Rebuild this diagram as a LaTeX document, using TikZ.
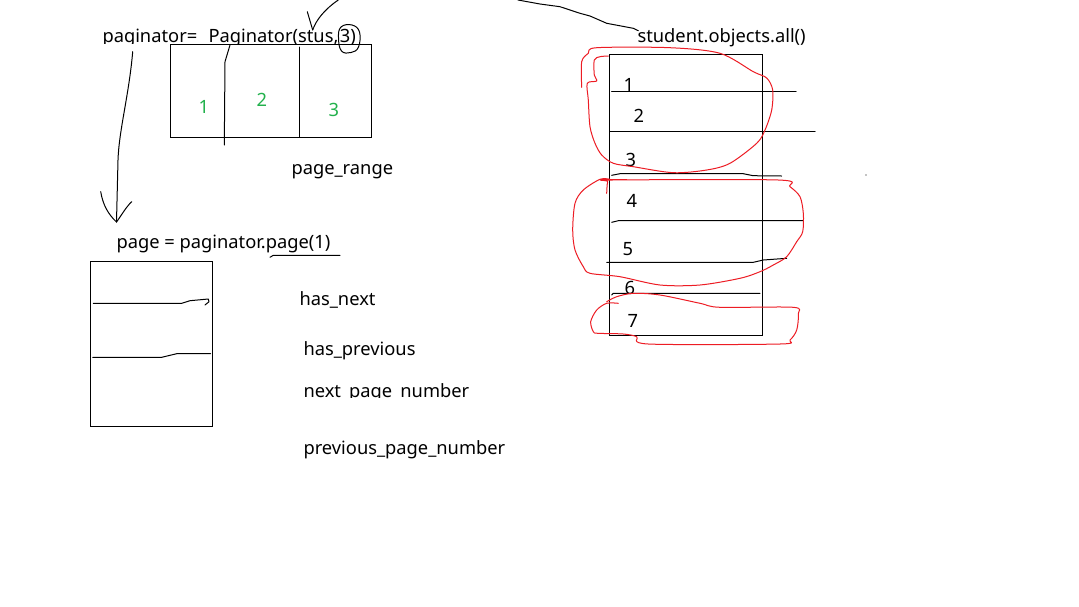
\documentclass[tikz,border=0pt]{standalone}
\usepackage{fontspec}
\setmainfont{Noto Sans}
\definecolor{numgreen}{RGB}{34,177,76}
\definecolor{inkred}{RGB}{237,28,36}
\begin{document}
\begin{tikzpicture}[x=1pt,y=-1pt,line width=1pt,
  txt/.style={anchor=base west,inner sep=0pt,font=\fontsize{18.3}{21}\selectfont},
  grn/.style={txt,text=numgreen},
  hand/.style={draw=black,line width=1pt,line join=round,line cap=round},
  redline/.style={draw=inkred,line width=1pt,line join=round,line cap=round},
  box/.style={draw=black,line width=1pt,inner sep=0pt}]
\fill[white] (0,0) rectangle (1079,606);
\useasboundingbox (0,0) rectangle (1079,606);

% ---------- top left ----------
\begin{scope}
  \clip (0,0) rectangle (500,43.5);
  \node[txt] (pag) at (102,42.5) {paginator=};
  \node[txt] (Pag) at (208,42.5) {Paginator(stus,\hspace{1.5pt}3)};
\end{scope}
\node[box,minimum width=201pt,minimum height=93pt] (pgbox) at (270.5,90.5) {};
\draw[hand] (299,47) -- (299,137);
\node[grn] (g1) at (198,113) {1};
\node[grn] (g2) at (256,106) {2};
\node[grn] (g3) at (328,116) {3};
% line from "Paginator" down
\coordinate (u1) at (230,45);
\draw[hand] (u1) -- (225,61.7) -- (224.3,145);
% arrow into "stus"
\coordinate (s0) at (338.3,0);
\coordinate (s1) at (312.7,30);
\draw[hand] (s0) .. controls (325,9) and (316,20) .. (s1);
\draw[hand] (307.3,11.7) -- (s1);
% circle around 3
\draw[hand] plot[smooth cycle,tension=0.7] coordinates {(341,27) (352,25) (359.5,32) (358.5,47) (351,52.5) (341.5,51) (338.5,38)};

\node[txt] (range) at (291,174) {page\_range};

% ---------- arrow paginator -> page ----------
\coordinate (a0) at (132.7,51.7);
\coordinate (a1) at (116.5,222);
\draw[hand] (a0) .. controls (129,95) and (119,130) .. (118,160) -- (a1);
\draw[hand] (100.7,191.7) .. controls (103,205) and (108,214) .. (a1);
\draw[hand] (131.7,201.7) .. controls (126,207) and (121,216) .. (a1);

% ---------- page ----------
\node[txt] (page) at (116,248) {page = paginator.page(1)};
\draw[hand] (270,257.3) -- (273.3,255.3) -- (340,255.3);
\node[box,minimum width=122pt,minimum height=165pt] (pbox) at (151.7,344) {};
\draw[hand] (93.3,303.3) -- (181.7,303.3) -- (190,300.7) -- (208.3,299) -- (209,301.7) -- (205,305);
\draw[hand] (92.7,357.3) -- (161.7,357.3) -- (176.7,353.7) -- (210.7,353.7);

\node[txt] (hasnext) at (299,305) {has\_next};
\node[txt] (hasprev) at (303,355) {has\_previous};
\begin{scope}
  \clip (0,300) rectangle (700,397.5);
  \node[txt] (nextnum) at (303,397) {next\_page\_number};
\end{scope}
\node[txt] (prevnum) at (303,454) {previous\_page\_number};

% ---------- right side ----------
\node[txt] (student) at (637,42) {student.objects.all()};
\coordinate (t0) at (518,0);
\draw[hand] (t0) -- (540,4) -- (560,6.7) -- (580,13.3) -- (590,16) -- (606.7,23.3) -- (633.3,28.3) -- (638.3,30.7);
\node[box,minimum width=153pt,minimum height=281pt] (sbox) at (685.5,194.5) {};
\draw[hand] (611.7,91) -- (796,91);
\draw[hand] (610,131) -- (815,131);
\draw[hand] (611.7,175.3) -- (620,173.7) -- (743.3,173.7) -- (753.3,175.7) -- (781.7,176);
\draw[hand] (611.7,222.3) -- (618.3,220.7) -- (803.3,220.7);
\draw[hand] (606.7,262.3) -- (753.3,262.3) -- (763.3,260) -- (786.7,258.3);
\draw[hand] (611.7,295) -- (613.3,293.3) -- (760,293.3);
\node[txt] (n1) at (623,91) {1};
\node[txt] (n2) at (633,122) {2};
\node[txt] (n3) at (625,166) {3};
\node[txt] (n4) at (626,207) {4};
\node[txt] (n5) at (622,255) {5};
\node[txt] (n6) at (624,294) {6};
\node[txt] (n7) at (627,327) {7};
\fill (866,175) circle (0.6);

% red loops
\draw[redline] plot[smooth,tension=0.5] coordinates {(581.7,87.3) (581.7,61.7) (588.3,53.3) (596.7,47.7) (670,47.7) (720,53.3) (753.3,71.7) (766.7,78) (772.7,90) (771.7,110) (765,130) (756.7,143.3) (730,163.3) (706.7,170) (673.3,172.7) (633.3,166.7) (613.3,163.3) (601.7,155) (595,143.3) (590,126.7) (588.3,100) (587.3,83.3) (596.7,81) (594.3,75) (594.3,60) (600,56.7) (608.3,56)};
\draw[redline] (599.3,179.3) -- (626.7,179.3);
\draw[redline] plot[smooth,tension=0.5] coordinates {(606.7,193.3) (607.7,181.7) (612,180) (778.3,180) (790,186.7) (800,196.7) (803.3,213.3) (802.7,231.7) (796.7,241.7) (786.7,256.7) (773.3,265) (760,271.7) (740,278.3) (700,285) (660,285) (620,276.7) (590,273.3) (583.3,266.7) (575,250) (572.7,230) (575,203.3) (583.3,190) (600,179.3) (610,179.3)};
\draw[redline] plot[smooth,tension=0.5] coordinates {(618.3,303.3) (606.7,303.3) (596.7,310) (590.7,321.7) (593.3,331.7) (598,333.3) (623.3,334) (636.7,336.7) (648.3,344) (780,344) (790,340) (796.7,330) (798.3,314) (793.3,307.3) (720,307.3) (700,303.3) (660,295) (633.3,293.3) (616.7,296.7) (606.7,301.7)};
\end{tikzpicture}
\end{document}
